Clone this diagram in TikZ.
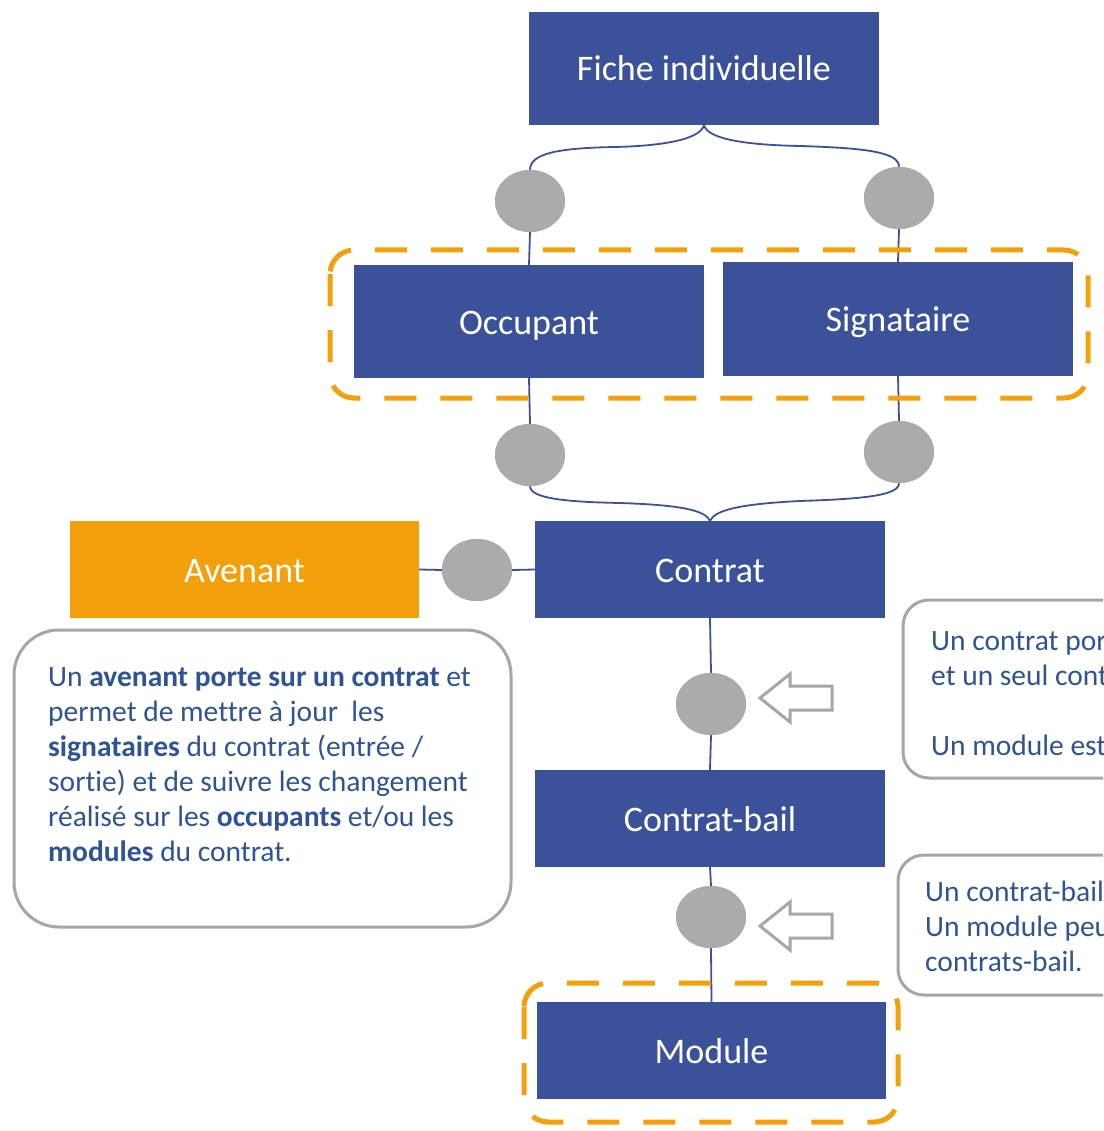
\documentclass[tikz,border=0pt]{standalone}
\usepackage{fontspec}
\setmainfont{Carlito}[Ligatures={NoCommon}]
\usetikzlibrary{shapes.geometric}
\definecolor{boxblue}{RGB}{59,82,155}
\definecolor{txtblue}{RGB}{47,84,150}
\definecolor{orng}{RGB}{244,160,12}
\definecolor{circgray}{RGB}{171,171,171}
\definecolor{bordgray}{RGB}{166,166,166}
\begin{document}
\begin{tikzpicture}[x=1pt,y=-1pt,
  entity/.style={fill=boxblue, text=white, font=\fontsize{36}{43}\selectfont, inner sep=0, minimum width=350, minimum height=113, text height=25pt, text depth=0pt},
  orentity/.style={entity, fill=orng},
  card/.style={ellipse, fill=circgray, minimum width=70, minimum height=62, inner sep=0},
  conn/.style={draw=boxblue, line width=1.8},
  group/.style={draw=orng, line width=5, dash pattern=on 32 off 24, rounded corners=24},
  notebox/.style={draw=bordgray, line width=3, fill=white},
  notetext/.style={text=txtblue, font=\fontsize{29.5}{35}\selectfont, inner sep=0, align=left},
  hollowarrow/.style={draw=bordgray, line width=3, fill=white, line join=miter}
]
\clip (0,0) rectangle (1103,1131);
\fill[white] (0,0) rectangle (1103,1131);

% entity boxes
\node[entity] (fiche) at (704,68.5) {Fiche individuelle};
\node[entity] (occ) at (529,321.5) {Occupant};
\node[entity] (sig) at (898,319) {Signataire};
\node[entity, minimum height=97] (contrat) at (710,569.5) {Contrat};
\node[orentity, minimum width=349, minimum height=97] (aven) at (244.5,569.5) {Avenant};
\node[entity, minimum height=97] (cbail) at (710,818.5) {Contrat-bail};
\node[entity, minimum width=349, minimum height=97] (module) at (711.5,1050.5) {Module};

% cardinality circles
\node[card] (c1) at (530,201) {};
\node[card] (c2) at (899,198) {};
\node[card] (c3) at (530,455) {};
\node[card] (c4) at (899,452) {};
\node[card] (c5) at (477,570) {};
\node[card] (c6) at (711,704) {};
\node[card] (c7) at (711,917) {};

% connectors
\draw[conn] (fiche.south) .. controls (700,140) and (660,146) .. (615,147)
  .. controls (560,148) and (530,153) .. (c1.north);
\draw[conn] (fiche.south) .. controls (708,140) and (750,145) .. (800,146)
  .. controls (865,148) and (899,152) .. (c2.north);
\draw[conn] (c1.south) -- (occ.north);
\draw[conn] (c2.south) -- (sig.north);
\draw[conn] (occ.south) -- (c3.north);
\draw[conn] (sig.south) -- (c4.north);
\draw[conn] (c3.south) .. controls (530,499) and (570,502) .. (620,503)
  .. controls (680,505) and (705,510) .. (contrat.north);
\draw[conn] (c4.south) .. controls (899,496) and (860,499) .. (800,501)
  .. controls (740,504) and (715,510) .. (contrat.north);
\draw[conn] (aven.east) -- (c5.west);
\draw[conn] (c5.east) -- (contrat.west);
\draw[conn] (contrat.south) -- (c6.north);
\draw[conn] (c6.south) -- (cbail.north);
\draw[conn] (cbail.south) -- (c7.north);
\draw[conn] (c7.south) -- (module.north);

% redraw circles above connectors
\node[card] at (c1) {};
\node[card] at (c2) {};
\node[card] at (c3) {};
\node[card] at (c4) {};
\node[card] at (c5) {};
\node[card] at (c6) {};
\node[card] at (c7) {};

% dashed groups
\draw[group] (330,250) rectangle (1088,398);
\draw[group] (524,983) rectangle (898,1122);

% hollow arrows
\draw[hollowarrow] (760,698) -- (790,674) -- (790,686) -- (832,686) -- (832,710) -- (790,710) -- (790,722) -- cycle;
\draw[hollowarrow] (760,926) -- (790,902) -- (790,914) -- (832,914) -- (832,938) -- (790,938) -- (790,950) -- cycle;

% notes
\draw[notebox, rounded corners=45] (14,630) rectangle (511,927);
\node[notetext, anchor=north west] (noteL) at (48,667) {Un \textbf{avenant porte sur un contrat} et\\
permet de mettre à jour\ \ les\\
\textbf{signataires} du contrat (entrée /\\
sortie) et de suivre les changement\\
réalisé sur les \textbf{occupants} et/ou les\\
\textbf{modules} du contrat.};

\draw[notebox, rounded corners=26] (903,600) rectangle (1140,778);
\node[notetext, anchor=north west] (noteR1) at (931,631) {Un contrat por\\
et un seul cont\\[35pt]
Un module est};

\draw[notebox, rounded corners=26] (898,855) rectangle (1140,995);
\node[notetext, anchor=north west] (noteR2) at (925,881) {Un contrat-bail\\
Un module peu\\
contrats-bail.};
\end{tikzpicture}
\end{document}
